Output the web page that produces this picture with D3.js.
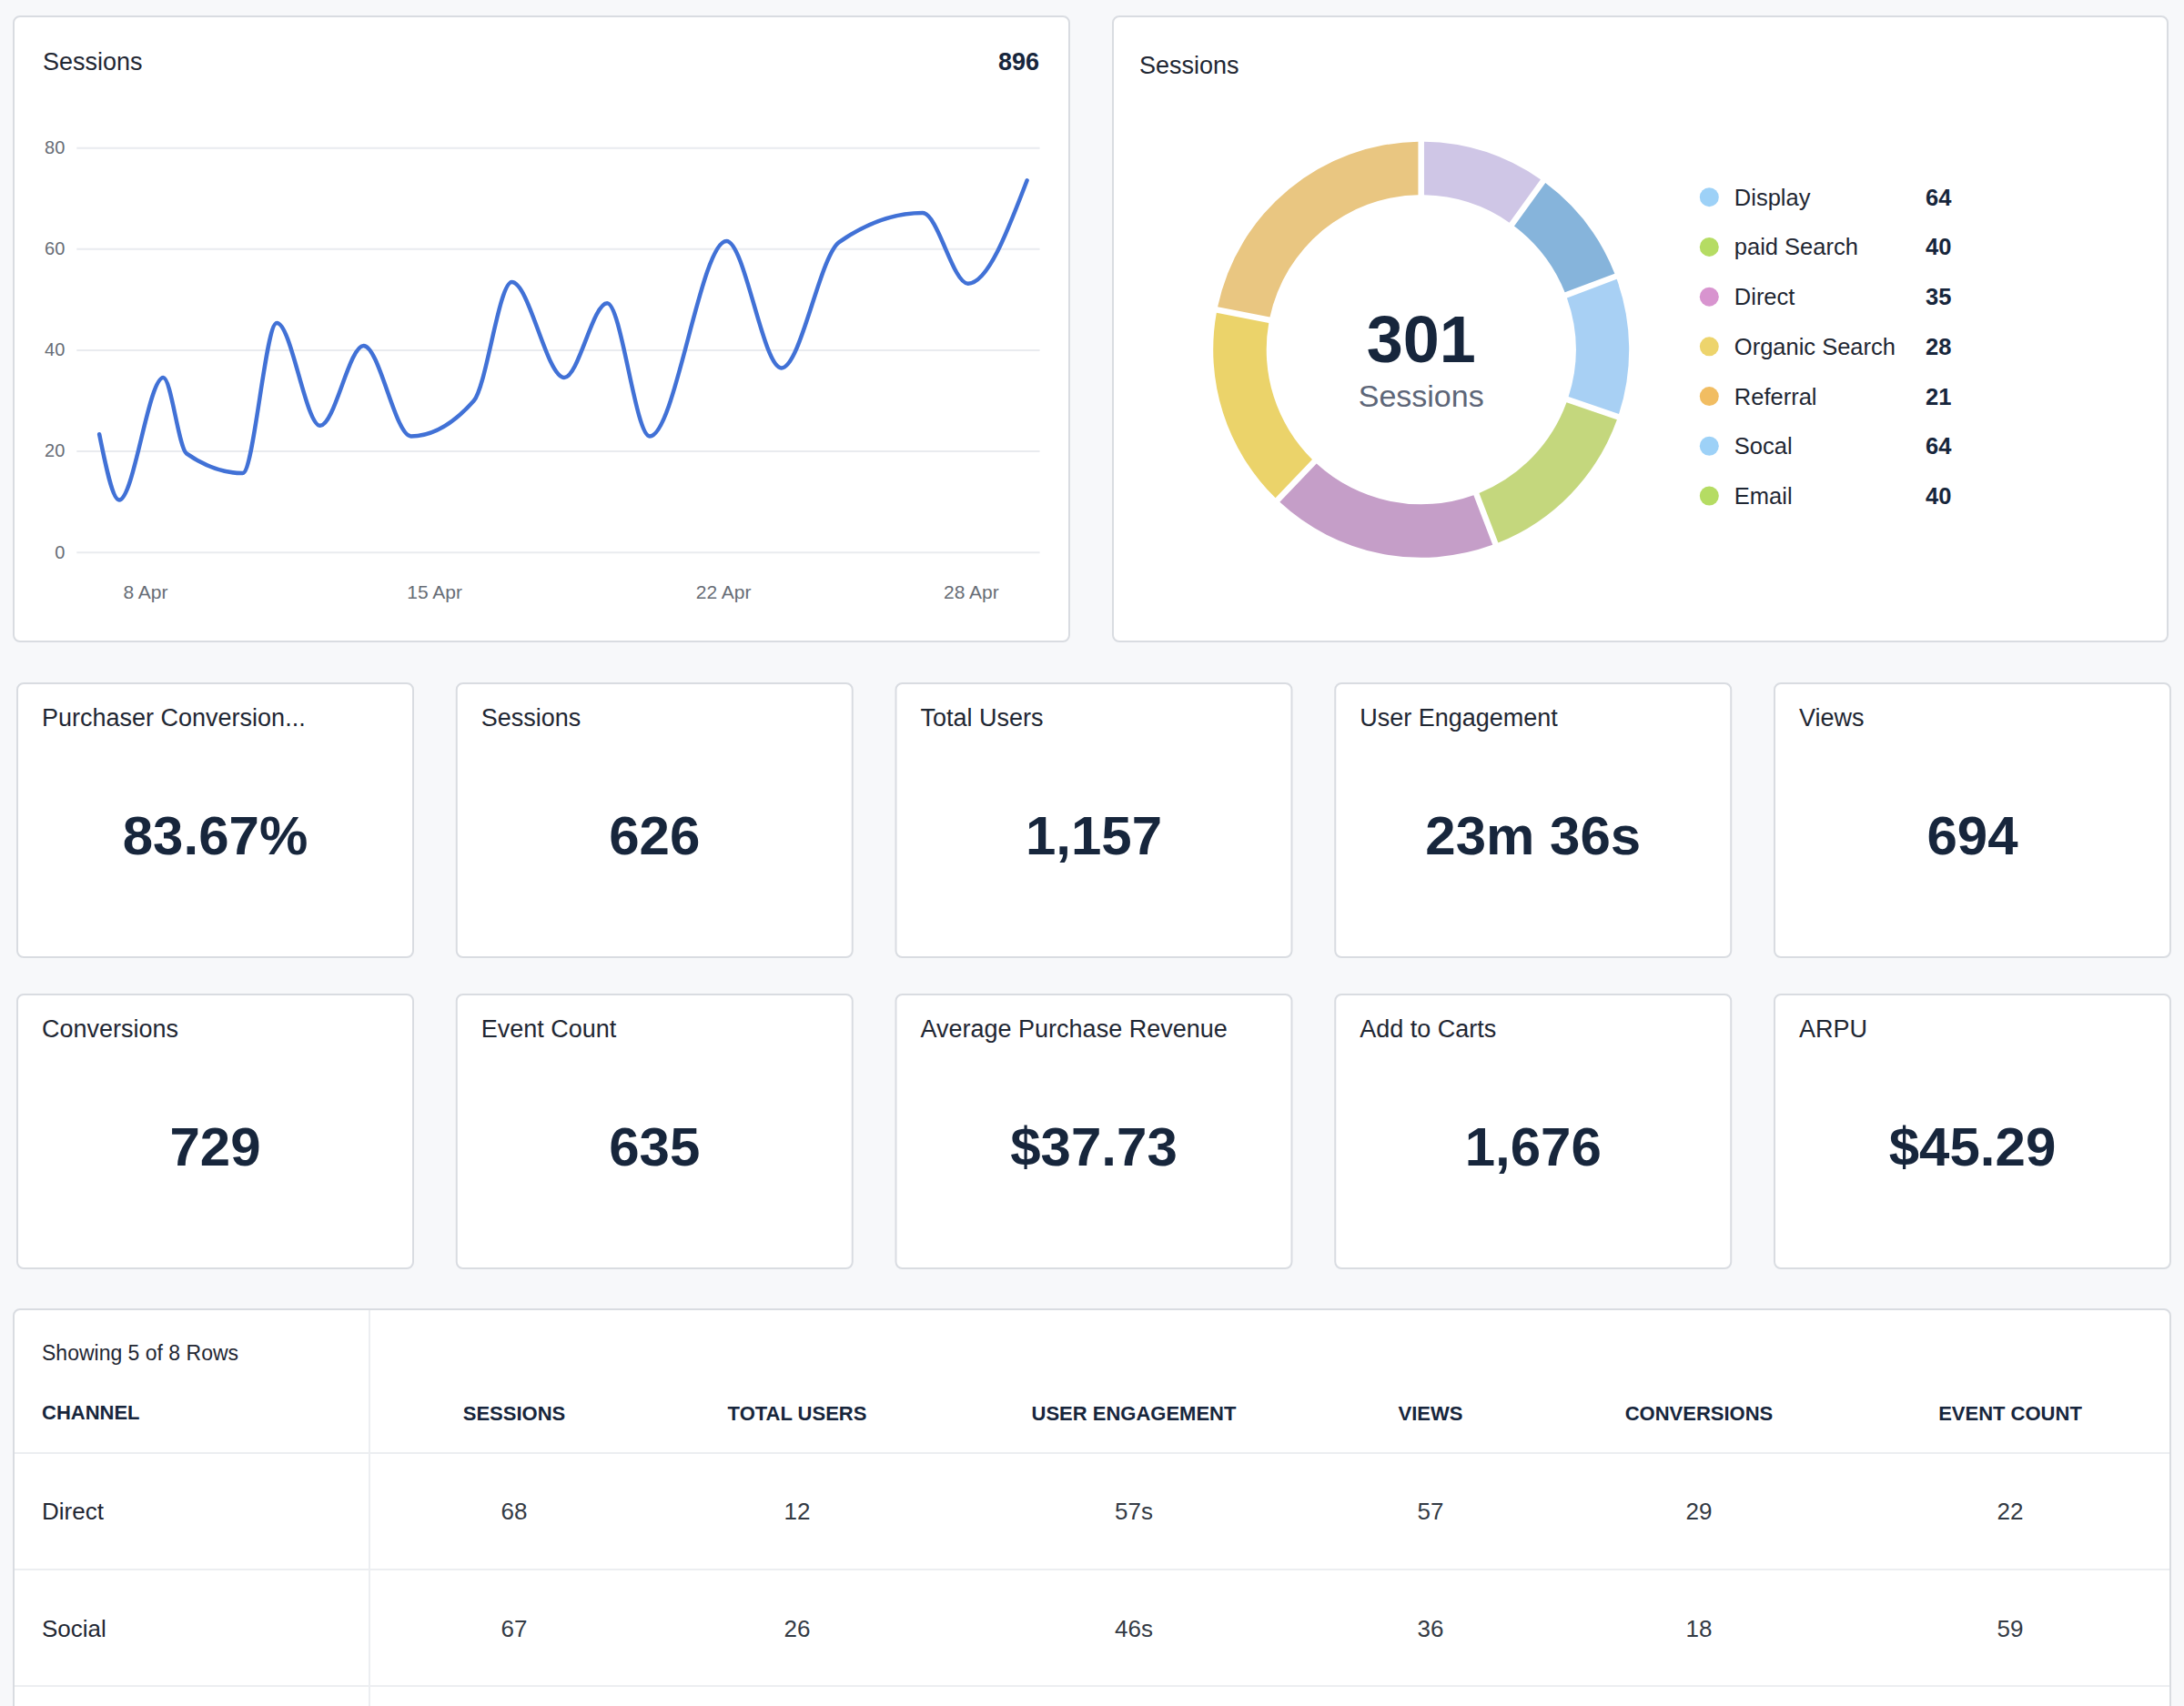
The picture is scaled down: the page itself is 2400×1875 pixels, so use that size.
<!DOCTYPE html>
<html>
<head>
<meta charset="utf-8">
<script src="https://cdn.jsdelivr.net/npm/d3@7"></script>
<style>
  html, body { margin: 0; padding: 0; background: #f7f8fa; overflow: hidden; }
  svg { display: block; }
  text { font-family: "Liberation Sans", Arial, Helvetica, sans-serif; }
</style>
</head>
<body>
<svg id="page" width="2400" height="1875"></svg>
<script>
// ---------------- DATA ----------------
// Sessions line: day of April (fractional) and value
const sessionDays   = [6.89, 7.37, 8.44, 9.00, 10.36, 11.19, 12.24, 13.29, 14.44, 15.96,
                       16.88, 18.15, 19.19, 20.22, 22.08, 23.41, 24.81, 26.83, 27.93, 29.36];
const sessionValues = [23.3, 10.3, 34.5, 19.5, 15.6, 45.3, 25.0, 40.8, 22.9, 29.9,
                       53.4, 34.5, 49.2, 22.9, 61.5, 36.4, 61.3, 67.1, 53.1, 73.5];
const sessionsTotal = "896";
const yTicks = [0, 20, 40, 60, 80];
const xTickDays = [8, 15, 22, 28];

// Donut
const donutValues = [30, 28, 33, 42, 54, 48, 66];
const donutColors = ["#cfc6e6", "#86b4db", "#a8d0f4", "#c4d77d", "#c59ec8", "#ebd36a", "#e9c681"];
const donutTotal = "301";
const legendLabels = ["Display", "paid Search", "Direct", "Organic Search", "Referral", "Socal", "Email"];
const legendValues = [64, 40, 35, 28, 21, 64, 40];
const legendColors = ["#9dd1f7", "#b5dc63", "#d894cf", "#edd46c", "#f1bd62", "#9dd1f7", "#b5dc63"];

// KPI cards
const kpiTitles = ["Purchaser Conversion...", "Sessions", "Total Users", "User Engagement", "Views",
                   "Conversions", "Event Count", "Average Purchase Revenue", "Add to Carts", "ARPU"];
const kpiValues = ["83.67%", "626", "1,157", "23m 36s", "694",
                   "729", "635", "$37.73", "1,676", "$45.29"];

// Table
const tableCaption = "Showing 5 of 8 Rows";
const tableHeaders = ["CHANNEL", "SESSIONS", "TOTAL USERS", "USER ENGAGEMENT", "VIEWS", "CONVERSIONS", "EVENT COUNT"];
const tableChannels = ["Direct", "Social"];
const tableSessions = [68, 67];
const tableUsers = [12, 26];
const tableEngagement = ["57s", "46s"];
const tableViews = [57, 36];
const tableConversions = [29, 18];
const tableEvents = [22, 59];

// ---------------- LAYOUT ----------------
const svg = d3.select("#page");
const BORDER = "#d9dce1";
const DARK = "#17263c";
const TEXT = "#1f2733";
const GRAY = "#676d76";

function card(x, y, w, h) {
  svg.append("rect").attr("x", x).attr("y", y).attr("width", w).attr("height", h)
    .attr("rx", 7).attr("fill", "#fff").attr("stroke", BORDER).attr("stroke-width", 2);
}

// ---- Line chart card ----
card(15, 18, 1160, 687);
svg.append("text").attr("x", 47).attr("y", 68).attr("dy", "0.35em")
  .attr("font-size", 27).attr("fill", TEXT).text("Sessions");
svg.append("text").attr("x", 1142).attr("y", 68).attr("dy", "0.35em").attr("text-anchor", "end")
  .attr("font-size", 27).attr("font-weight", "bold").attr("fill", DARK).text(sessionsTotal);

const dayToDate = d => new Date(Date.UTC(2024, 3, 1) + (d - 1) * 864e5);
const x = d3.scaleUtc().domain([dayToDate(8), dayToDate(28)]).range([159.5, 1066.9]);
const y = d3.scaleLinear().domain([0, 80]).range([606.7, 162.2]);

const yAxis = svg.append("g").attr("transform", "translate(84.3,0)")
  .call(d3.axisLeft(y).tickValues(yTicks).tickSize(-(1142.6 - 84.3)).tickPadding(13));
yAxis.select(".domain").remove();
yAxis.selectAll(".tick line").attr("stroke", "#e9ebef").attr("stroke-width", 2);
yAxis.selectAll(".tick text").attr("font-size", 20).attr("fill", GRAY)
  .attr("font-family", '"Liberation Sans", Arial, sans-serif');

const xAxis = svg.append("g").attr("transform", "translate(0,651)")
  .call(d3.axisBottom(x).tickValues(xTickDays.map(dayToDate))
    .tickFormat(d3.utcFormat("%-d %b")).tickSize(0).tickPadding(0));
xAxis.select(".domain").remove();
xAxis.selectAll(".tick text").attr("y", 0).attr("dy", "0.35em").attr("font-size", 21).attr("fill", GRAY)
  .attr("font-family", '"Liberation Sans", Arial, sans-serif');

const lineData = sessionDays.map((d, i) => ({ date: dayToDate(d), v: sessionValues[i] }));
svg.append("path").datum(lineData)
  .attr("fill", "none").attr("stroke", "#4171d6").attr("stroke-width", 4.5)
  .attr("stroke-linecap", "round").attr("stroke-linejoin", "round")
  .attr("d", d3.line().x(d => x(d.date)).y(d => y(d.v)).curve(d3.curveMonotoneX));

// ---- Donut card ----
card(1223, 18, 1159, 687);
svg.append("text").attr("x", 1252).attr("y", 72).attr("dy", "0.35em")
  .attr("font-size", 27).attr("fill", TEXT).text("Sessions");

const cx = 1561.7, cy = 384.3;
const pie = d3.pie().sort(null).value(d => d);
const arc = d3.arc().innerRadius(170).outerRadius(228.5).padAngle(0.023);
const donut = svg.append("g").attr("transform", `translate(${cx},${cy})`);
donut.selectAll("path").data(pie(donutValues)).join("path")
  .attr("d", arc).attr("fill", (d, i) => donutColors[i]);
donut.append("text").attr("y", -12).attr("dy", "0.35em").attr("text-anchor", "middle")
  .attr("font-size", 72).attr("font-weight", "bold").attr("fill", DARK).text(donutTotal);
donut.append("text").attr("y", 51).attr("dy", "0.35em").attr("text-anchor", "middle")
  .attr("font-size", 34).attr("fill", "#5d6678").text("Sessions");

const legend = svg.append("g");
const legendY = d3.scalePoint().domain(d3.range(legendLabels.length)).range([216.7, 545]);
const lg = legend.selectAll("g").data(legendLabels).join("g")
  .attr("transform", (d, i) => `translate(1878.3,${legendY(i)})`);
lg.append("circle").attr("r", 10.5).attr("fill", (d, i) => legendColors[i]);
lg.append("text").attr("x", 27.5).attr("dy", "0.35em").attr("font-size", 25.5).attr("fill", TEXT).text(d => d);
lg.append("text").attr("x", 237.7).attr("dy", "0.35em").attr("font-size", 25.5).attr("font-weight", "bold")
  .attr("fill", DARK).text((d, i) => legendValues[i]);

// ---- KPI cards ----
const kpiCol = d3.scaleLinear().domain([0, 4]).range([19, 1950]);
const kpiRow = [751, 1093];
kpiTitles.forEach((t, i) => {
  const cxk = kpiCol(i % 5), cyk = kpiRow[Math.floor(i / 5)];
  card(cxk, cyk, 435, 301);
  svg.append("text").attr("x", cxk + 27).attr("y", cyk + 38).attr("dy", "0.35em")
    .attr("font-size", 27).attr("fill", TEXT).text(t);
  svg.append("text").attr("x", cxk + 217.5).attr("y", cyk + 167).attr("dy", "0.35em")
    .attr("text-anchor", "middle").attr("font-size", 60).attr("font-weight", "bold")
    .attr("fill", DARK).text(kpiValues[i]);
});

// ---- Table ----
card(15, 1439, 2370, 520);
const colCenters = [565, 876, 1246, 1572, 1867, 2209];
svg.append("line").attr("x1", 406).attr("x2", 406).attr("y1", 1440).attr("y2", 1875)
  .attr("stroke", "#eceef1").attr("stroke-width", 2);
[1597, 1725, 1853].forEach(ly => {
  svg.append("line").attr("x1", 16).attr("x2", 2384).attr("y1", ly).attr("y2", ly)
    .attr("stroke", "#eceef1").attr("stroke-width", 2);
});
svg.append("text").attr("x", 46).attr("y", 1487).attr("dy", "0.35em")
  .attr("font-size", 23).attr("fill", TEXT).text(tableCaption);
svg.append("text").attr("x", 46).attr("y", 1552).attr("dy", "0.35em")
  .attr("font-size", 22).attr("font-weight", "bold").attr("fill", DARK).text(tableHeaders[0]);
tableHeaders.slice(1).forEach((h, i) => {
  svg.append("text").attr("x", colCenters[i]).attr("y", 1553).attr("dy", "0.35em")
    .attr("text-anchor", "middle").attr("font-size", 22).attr("font-weight", "bold")
    .attr("fill", DARK).text(h);
});
const rowY = [1661, 1790];
tableChannels.forEach((ch, r) => {
  const cells = [tableSessions[r], tableUsers[r], tableEngagement[r], tableViews[r], tableConversions[r], tableEvents[r]];
  svg.append("text").attr("x", 46).attr("y", rowY[r]).attr("dy", "0.35em")
    .attr("font-size", 26).attr("fill", TEXT).text(ch);
  cells.forEach((c, i) => {
    svg.append("text").attr("x", colCenters[i]).attr("y", rowY[r]).attr("dy", "0.35em")
      .attr("text-anchor", "middle").attr("font-size", 26).attr("fill", "#333a44").text(c);
  });
});
</script>
</body>
</html>
